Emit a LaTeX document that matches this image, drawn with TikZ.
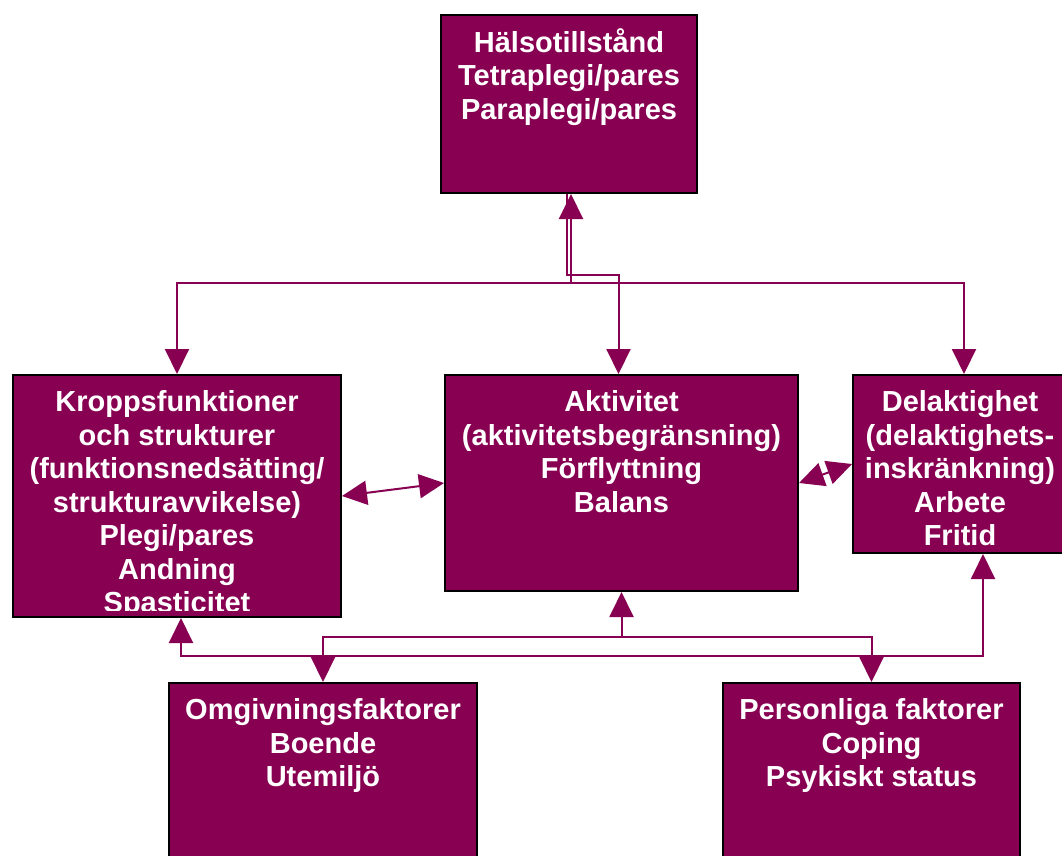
\documentclass[tikz,border=0pt]{standalone}
\usepackage{fontspec}
\setmainfont{Liberation Sans}
\usetikzlibrary{arrows.meta}
\definecolor{plum}{RGB}{136,0,82}
\tikzset{box/.style={draw=black, line width=2pt, fill=plum, anchor=north west, inner sep=0pt},
  txt/.style={text=white, font=\fontsize{29}{33.5}\selectfont\bfseries, align=center, anchor=north, inner sep=0pt, yshift=-14pt},
  conn/.style={draw=plum, line width=2pt},
  >={Triangle[length=25pt,width=24pt]}}

\begin{document}
\begin{tikzpicture}[x=1pt,y=-1pt]
  \useasboundingbox (0,0) rectangle (1062,855);
  \clip (0,0) rectangle (1062,855);
  % boxes
  \node[box, minimum width=256, minimum height=178] (halsa) at (440,14) {};
  \node[box, minimum width=328, minimum height=242] (kropp) at (12,374) {};
  \node[box, minimum width=353, minimum height=216] (akt) at (444,374) {};
  \node[box, minimum width=222, minimum height=178] (delak) at (852,374) {};
  \node[box, minimum width=308, minimum height=190] (omgiv) at (168,682) {};
  \node[box, minimum width=297, minimum height=190] (pers) at (722,682) {};
  % texts
  \node[txt] (halsa-t) at (halsa.north) {\strut H\"alsotillst\r{a}nd\\Tetraplegi/pares\\Paraplegi/pares};
  \begin{scope}
    \clip (kropp.north west) rectangle ([yshift=8pt]kropp.south east);
    \node[txt] (kropp-t) at (kropp.north) {\strut Kroppsfunktioner\\och strukturer\\(funktionsneds\"atting/\\strukturavvikelse)\\Plegi/pares\\Andning\\Spasticitet};
  \end{scope}
  \node[txt] (akt-t) at (akt.north) {\strut Aktivitet\\(aktivitetsbegr\"ansning)\\F\"orflyttning\\Balans};
  \node[txt] (delak-t) at ([xshift=-4pt]delak.north) {\strut Delaktighet\\(delaktighets-\\inskr\"ankning)\\Arbete\\Fritid};
  \node[txt] (omgiv-t) at (omgiv.north) {\strut Omgivningsfaktorer\\Boende\\Utemilj\"o};
  \node[txt] (pers-t) at (pers.north) {\strut Personliga faktorer\\Coping\\Psykiskt status};
  % upper connectors
  \coordinate (topbus) at ([xshift=2pt]halsa.south |- 0,283);
  \draw[conn,->] (topbus) -- ([xshift=2pt]halsa.south);
  \draw[conn,->] ([xshift=-2pt]halsa.south) -- ++(0,81) -| ([xshift=-3pt]akt.north);
  \draw[conn,->] (topbus) -| (kropp.north);
  \draw[conn,->] (topbus) -| (delak.north);
  % middle row
  \draw[conn,<->] (kropp.east) -- (akt.west);
  \draw[conn,<->] (akt.east) -- (delak.west);
  % lower connectors
  \draw[conn,<->] ([xshift=4pt]kropp.south) -- ++(0,38) -| ([xshift=19pt]delak.south);
  \coordinate (lowbus) at (akt.south |- 0,637);
  \draw[conn,->] (lowbus) -- (akt.south);
  \draw[conn,->] (lowbus) -| (omgiv.north);
  \draw[conn,->] (lowbus) -| (pers.north);
\end{tikzpicture}
\end{document}
